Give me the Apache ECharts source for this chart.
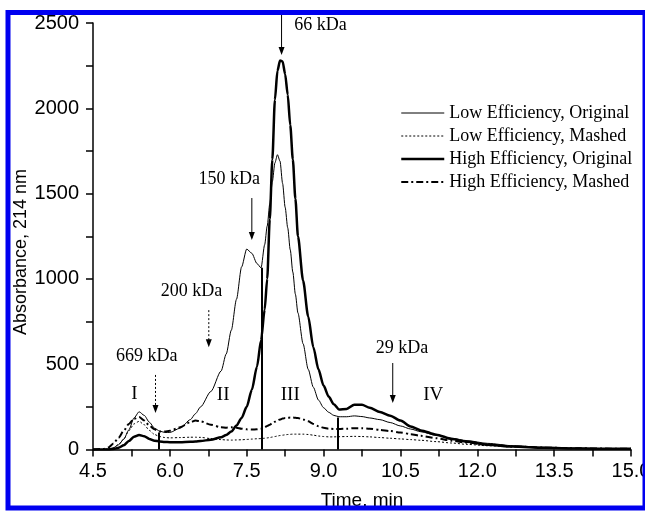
<!DOCTYPE html>
<html><head><meta charset="utf-8">
<script src="https://cdn.jsdelivr.net/npm/echarts@6/dist/echarts.min.js"></script>
<style>html,body{margin:0;padding:0;background:#fff}#c{width:645px;height:511px}</style>
</head><body><div id="c"></div>
<script>
// ---- data ----
const time = [4.5,4.7,4.8,4.9,5.0,5.1,5.2,5.3,5.4,5.5,5.6,5.7,5.8,5.9,6.0,6.2,6.4,6.5,6.6,6.8,7.0,7.1,7.2,7.3,7.4,7.5,7.6,7.7,7.78,7.85,7.9,7.95,8.0,8.05,8.1,8.15,8.2,8.25,8.3,8.35,8.4,8.45,8.5,8.6,8.7,8.8,8.9,9.0,9.1,9.2,9.3,9.45,9.6,9.75,9.9,10.1,10.3,10.5,10.7,10.9,11.2,11.5,11.8,12.2,12.7,13.3,14.0,14.6,15.0];
const lowOriginal = [0,0,3,10,28,60,115,185,221,200,160,125,108,100,100,125,175,210,250,340,460,560,700,880,1070,1175,1150,1090,1065,1200,1310,1440,1570,1680,1728,1690,1560,1420,1300,1170,1040,910,800,620,470,365,290,245,218,200,192,192,197,193,185,175,158,138,120,104,83,66,52,36,22,13,8,5,4];
const lowMashed = [0,0,3,10,30,62,110,150,165,145,112,88,76,70,68,70,72,72,71,64,58,56,55,56,57,59,61,63,64,66,68,70,73,76,79,82,84,86,88,89,90,90,90,90,88,84,79,76,74,74,75,76,77,76,74,70,66,62,58,54,46,38,30,22,15,10,6,4,3];
const highOriginal = [0,0,0,3,10,25,50,75,85,78,62,52,47,44,43,43,45,47,50,57,72,85,105,140,185,250,350,485,640,820,1000,1350,1700,2050,2220,2280,2275,2200,2080,1900,1700,1470,1250,990,780,600,470,375,310,265,235,238,262,262,245,220,198,170,135,112,87,62,45,28,17,10,6,4,4];
const highMashed = [0,3,12,35,70,110,150,180,190,170,140,118,105,105,110,130,160,170,165,145,130,128,130,128,122,118,117,118,122,130,138,145,155,163,170,176,181,184,186,187,187,186,184,176,165,150,137,127,122,120,120,122,125,125,122,115,108,100,90,80,66,52,40,28,18,11,7,5,4];
const seriesNames = ['Low Efficiency, Original','Low Efficiency, Mashed','High Efficiency, Original','High Efficiency, Mashed'];
const xTicks = {min:4.5, max:15.0, step:1.5};
const yTicks = {min:0, max:2500, step:500};
// vertical fraction dividers
const dividerT = [5.78, 7.785, 9.28];
const dividerV = [100, 1065, 188];
// text annotations (data coordinates)
const annoText = ['66 kDa','150 kDa','200 kDa','669 kDa','29 kDa','I','II','III','IV'];
const annoT = [8.94, 7.16, 6.42, 5.55, 10.53, 5.31, 7.04, 8.35, 11.14];
const annoV = [2487, 1585, 925, 544, 595, 325, 320, 320, 320];
// arrows (data coordinates)
const arrowT = [8.18, 7.60, 6.76, 5.72, 10.35];
const arrowFrom = [2550, 1474, 817, 437, 507];
const arrowTo = [2312, 1228, 600, 214, 273];
const arrowDotted = [false, false, true, true, false];

const pairs = a => time.map((t,i)=>[t,a[i]]);
const chart = echarts.init(document.getElementById('c'), null, {renderer:'canvas'});
const serif = 'Liberation Serif, Times New Roman, serif';
const sans = 'Liberation Sans, Arial, sans-serif';
const styles = [
  {color:'#000', width:1, type:'solid'},
  {color:'#000', width:1, type:[2,2]},
  {color:'#000', width:2.5, type:'solid'},
  {color:'#000', width:2, type:[7,3,2,3]}
];
const base = {type:'line', symbol:'none', showSymbol:false, smooth:0.25, smoothMonotone:'x', animation:false, silent:true};
chart.setOption({
  animation:false,
  backgroundColor:'#fff',
  grid:{left:93, right:14, top:23, bottom:61.5, containLabel:false, outerBoundsMode:'none'},
  legend:{
    data:seriesNames.map((n,i)=>({name:n, lineStyle:Object.assign({}, styles[i]), itemStyle:{opacity:0}})),
    orient:'vertical', left:395, top:98,
    itemWidth:43, itemHeight:14, itemGap:3,
    itemStyle:{opacity:0},
    textStyle:{fontFamily:serif, fontSize:18, color:'#000', lineHeight:20},
    selectedMode:false
  },
  xAxis:{type:'value', min:xTicks.min, max:xTicks.max, interval:xTicks.step,
    name:'Time, min', nameLocation:'middle', nameGap:42,
    nameTextStyle:{fontFamily:sans, fontSize:19, color:'#000'},
    axisLine:{show:true, onZero:false, lineStyle:{color:'#000', width:1.5}},
    axisTick:{show:true, length:7, lineStyle:{color:'#000', width:1.5}},
    minorTick:{show:true, splitNumber:2, length:7, lineStyle:{color:'#000', width:1.5}},
    splitLine:{show:false},
    axisLabel:{fontFamily:sans, fontSize:20, color:'#000', margin:12, formatter:v=>v.toFixed(1)}
  },
  yAxis:{type:'value', min:yTicks.min, max:yTicks.max, interval:yTicks.step,
    axisLine:{show:true, lineStyle:{color:'#000', width:1.5}},
    axisTick:{show:true, length:7, lineStyle:{color:'#000', width:1.5}},
    minorTick:{show:true, splitNumber:2, length:7, lineStyle:{color:'#000', width:1.5}},
    splitLine:{show:false},
    axisLabel:{fontFamily:sans, fontSize:20, color:'#000', margin:14, formatter:v=>String(v)}
  },
  series:[
    Object.assign({}, base, {name:seriesNames[0], data:pairs(lowOriginal), z:3,
      lineStyle:styles[0], itemStyle:{color:'#000'}}),
    Object.assign({}, base, {name:seriesNames[1], data:pairs(lowMashed), z:3,
      lineStyle:styles[1], itemStyle:{color:'#000'}}),
    Object.assign({}, base, {name:seriesNames[2], data:pairs(highOriginal), z:4,
      lineStyle:styles[2], itemStyle:{color:'#000'},
      markLine:{silent:true, symbol:['none','none'], animation:false,
        label:{show:false}, lineStyle:{color:'#000', width:2, type:'solid'},
        emphasis:{disabled:true},
        data: dividerT.map((t,i)=>[{coord:[t,0]},{coord:[t,dividerV[i]]}])}}),
    Object.assign({}, base, {name:seriesNames[3], data:pairs(highMashed), z:3,
      lineStyle:styles[3], itemStyle:{color:'#000'}})
  ]
});
const px = (t,v)=>chart.convertToPixel({gridIndex:0},[t,v]);
const g = [];
annoText.forEach((s,i)=>{
  const p = px(annoT[i], annoV[i]);
  g.push({type:'text', x:p[0], y:p[1], silent:true,
    style:{text:s, fontFamily:serif, fontSize:i>=5?19:18, fill:'#000', align:'center', verticalAlign:'middle'}});
});
arrowT.forEach((t,i)=>{
  const a = px(t, arrowFrom[i]), b = px(t, arrowTo[i]);
  g.push({type:'line', silent:true, shape:{x1:a[0], y1:a[1], x2:b[0], y2:b[1]-2},
    style:{stroke:'#000', lineWidth:1, lineDash:arrowDotted[i]?[2,2]:null}});
  g.push({type:'polygon', silent:true, shape:{points:[[b[0]-3,b[1]-8],[b[0]+3,b[1]-8],[b[0],b[1]]]},
    style:{fill:'#000'}});
});
g.push({type:'text', x:21, y:252, rotation:Math.PI/2, silent:true,
  style:{text:'Absorbance, 214 nm', fontFamily:sans, fontSize:18, fill:'#000', align:'center', verticalAlign:'middle'}});
g.push({type:'rect', silent:true, z:100, shape:{x:8, y:12.5, width:637, height:495.5},
  style:{fill:'none', stroke:'#0000f0', lineWidth:5}});
chart.setOption({graphic:g});
</script></body></html>
